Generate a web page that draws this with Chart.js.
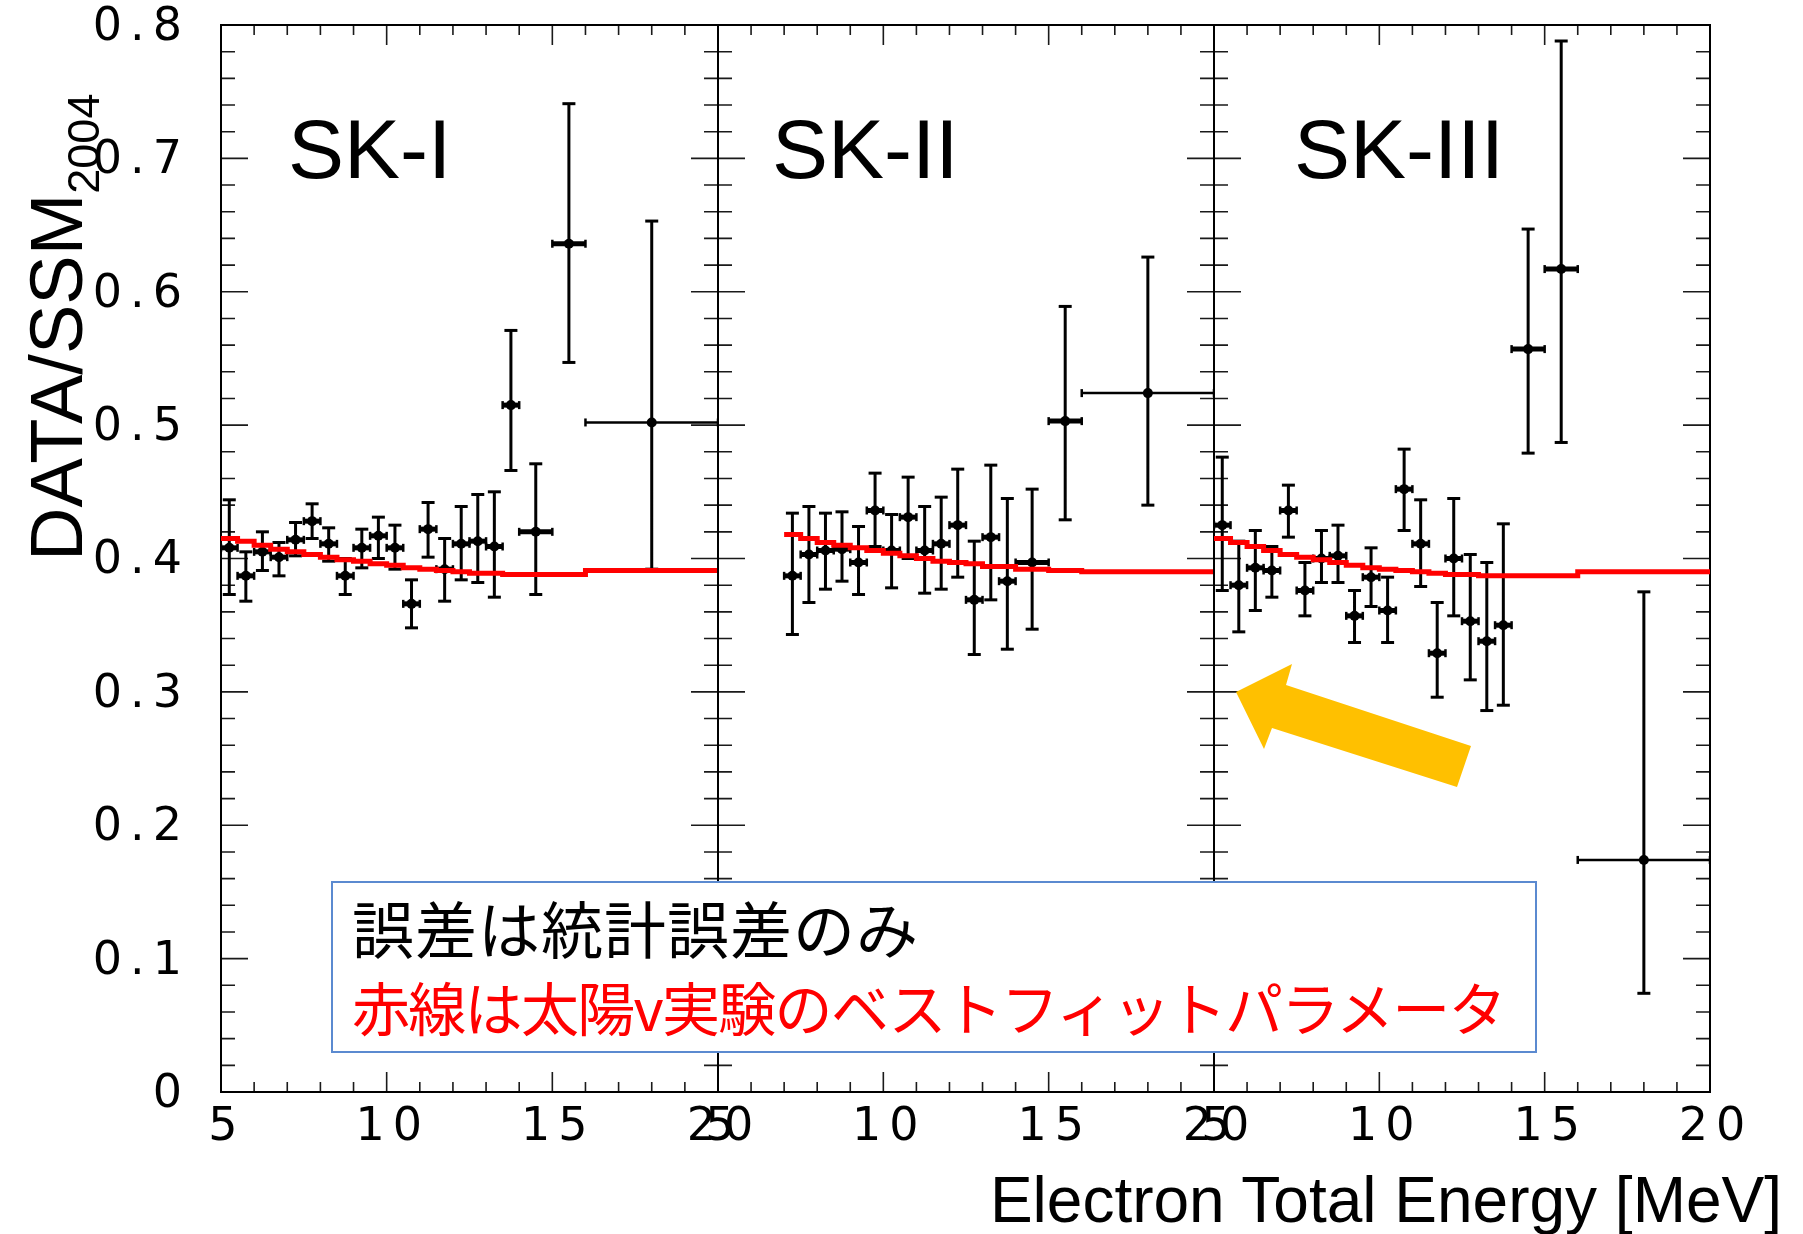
<!DOCTYPE html>
<html>
<head>
<meta charset="utf-8">
<script src="https://cdn.jsdelivr.net/npm/chart.js@4.4.1/dist/chart.umd.min.js"></script>
<style>
  html, body { margin: 0; padding: 0; background: #fff; width: 1803px; height: 1234px; overflow: hidden; }
  canvas { position: absolute; top: 0; }
  .txt { position: absolute; white-space: nowrap; line-height: 1; z-index: 5; }
  .panel-label { font-family: "Liberation Sans", Arial, sans-serif; font-size: 84px; color: #000; top: 107px; }
  #ytitle { font-family: "Liberation Sans", Arial, sans-serif; font-size: 74px; left: 20px; top: 561px;
            transform: rotate(-90deg); transform-origin: 0 0; color: #000; }
  #ytitle .sub { font-size: 45px; position: relative; top: 17px; }
  #xtitle { font-family: "Liberation Sans", Arial, sans-serif; font-size: 64px; right: 21px; top: 1168px; color: #000; }
  #note { position: absolute; left: 331px; top: 881px; width: 1206px; height: 172px; box-sizing: border-box;
          border: 2px solid #5b8ad0; background: #fff; z-index: 4; }
  .jp { font-family: "Noto Sans CJK JP", sans-serif; }
  #note1 { left: 352px; top: 896px; font-size: 62px; letter-spacing: 1px; color: #000; }
  #note2 { left: 352px; top: 977px; font-size: 58px; letter-spacing: -1.7px; color: #ff0000; }
  #arrow { position: absolute; left: 0; top: 0; z-index: 6; }
</style>
</head>
<body>
<canvas id="c1" width="760" height="1234" style="left:0px;width:760px;height:1234px"></canvas>
<canvas id="c2" width="616" height="1234" style="left:658px;width:616px;height:1234px"></canvas>
<canvas id="c3" width="616" height="1234" style="left:1154px;width:616px;height:1234px"></canvas>

<div id="ytitle" class="txt">DATA/SSM<span class="sub">2004</span></div>
<div class="txt panel-label" style="left:288px">SK-I</div>
<div class="txt panel-label" style="left:772px">SK-II</div>
<div class="txt panel-label" style="left:1294px">SK-III</div>
<div id="note"></div>
<div id="note1" class="txt jp">誤差は統計誤差のみ</div>
<div id="note2" class="txt jp">赤線は太陽v実験のベストフィットパラメータ</div>
<div id="xtitle" class="txt">Electron Total Energy [MeV]</div>
<svg id="arrow" width="1803" height="1234">
  <polygon points="1236,692 1292,664 1286,685 1471,746 1457,787 1272,728 1264,749" fill="#ffc000"/>
</svg>

<script>
// ---------------- data ----------------
const xTickValues = [5, 10, 15, 20];
const xTickLabels = ['5', '10', '15', '20'];
const yTickLabels = ['0', '0.1', '0.2', '0.3', '0.4', '0.5', '0.6', '0.7', '0.8'];

// SK-I : energy bin edges [MeV], ratio, error-bar low / high, best-fit curve per bin
const sk1Edges = [5, 5.5, 6, 6.5, 7, 7.5, 8, 8.5, 9, 9.5, 10, 10.5, 11, 11.5, 12, 12.5, 13, 13.5, 14, 15, 16, 20];
const sk1Val = [0.408, 0.387, 0.405, 0.401, 0.414, 0.428, 0.411, 0.387, 0.408, 0.417, 0.408, 0.366, 0.422, 0.392, 0.411, 0.413, 0.409, 0.515, 0.420, 0.636, 0.502];
const sk1Lo  = [0.373, 0.368, 0.391, 0.387, 0.402, 0.415, 0.398, 0.373, 0.393, 0.400, 0.392, 0.348, 0.401, 0.368, 0.384, 0.382, 0.371, 0.466, 0.373, 0.547, 0.392];
const sk1Hi  = [0.444, 0.405, 0.420, 0.412, 0.427, 0.441, 0.423, 0.400, 0.422, 0.431, 0.425, 0.384, 0.442, 0.415, 0.439, 0.448, 0.450, 0.571, 0.471, 0.741, 0.653];
const sk1Fit = [0.415, 0.413, 0.410, 0.407, 0.405, 0.403, 0.401, 0.399, 0.398, 0.396, 0.395, 0.393, 0.392, 0.391, 0.390, 0.389, 0.389, 0.388, 0.388, 0.388, 0.391];

// SK-II
const sk2Edges = [7, 7.5, 8, 8.5, 9, 9.5, 10, 10.5, 11, 11.5, 12, 12.5, 13, 13.5, 14, 15, 16, 20];
const sk2Val = [0.387, 0.403, 0.406, 0.407, 0.397, 0.436, 0.406, 0.431, 0.406, 0.411, 0.425, 0.369, 0.416, 0.383, 0.397, 0.503, 0.524];
const sk2Lo  = [0.343, 0.367, 0.377, 0.383, 0.373, 0.409, 0.378, 0.400, 0.374, 0.377, 0.386, 0.328, 0.369, 0.332, 0.347, 0.429, 0.440];
const sk2Hi  = [0.434, 0.439, 0.434, 0.435, 0.424, 0.464, 0.433, 0.461, 0.439, 0.446, 0.467, 0.413, 0.470, 0.445, 0.452, 0.589, 0.626];
const sk2Fit = [0.418, 0.415, 0.412, 0.410, 0.408, 0.406, 0.404, 0.402, 0.400, 0.398, 0.397, 0.396, 0.394, 0.394, 0.392, 0.391, 0.390];

// SK-III
const sk3Edges = [5, 5.5, 6, 6.5, 7, 7.5, 8, 8.5, 9, 9.5, 10, 10.5, 11, 11.5, 12, 12.5, 13, 13.5, 14, 15, 16, 20];
const sk3Val = [0.425, 0.380, 0.393, 0.391, 0.436, 0.376, 0.400, 0.402, 0.357, 0.386, 0.361, 0.452, 0.411, 0.329, 0.400, 0.353, 0.338, 0.350, 0.557, 0.617, 0.174];
const sk3Lo  = [0.376, 0.345, 0.361, 0.371, 0.416, 0.357, 0.382, 0.382, 0.337, 0.364, 0.337, 0.421, 0.379, 0.296, 0.357, 0.309, 0.286, 0.290, 0.479, 0.487, 0.074];
const sk3Hi  = [0.476, 0.413, 0.421, 0.409, 0.455, 0.397, 0.421, 0.425, 0.376, 0.408, 0.386, 0.482, 0.444, 0.367, 0.445, 0.403, 0.397, 0.426, 0.647, 0.788, 0.375];
const sk3Fit = [0.415, 0.412, 0.409, 0.406, 0.403, 0.401, 0.399, 0.397, 0.395, 0.393, 0.392, 0.391, 0.390, 0.389, 0.388, 0.388, 0.387, 0.387, 0.387, 0.387, 0.390];

// ---------------- helpers ----------------
function centers(edges) {
  const c = [];
  for (let i = 0; i < edges.length - 1; i++) c.push((edges[i] + edges[i + 1]) / 2);
  return c;
}
function pointData(edges, val) {
  return centers(edges).map((x, i) => ({ x, y: val[i] }));
}
function vErrData(edges, lo, hi) {
  const out = [];
  centers(edges).forEach((x, i) => { out.push({ x, y: lo[i] }, { x, y: hi[i] }, { x, y: null }); });
  return out;
}
function hErrData(edges, val) {
  const out = [];
  for (let i = 0; i < edges.length - 1; i++) {
    out.push({ x: edges[i], y: val[i] }, { x: edges[i + 1], y: val[i] }, { x: edges[i + 1], y: null });
  }
  return out;
}
function fitData(edges, fit) {
  const out = fit.map((v, i) => ({ x: edges[i], y: v }));
  out.push({ x: edges[edges.length - 1], y: fit[fit.length - 1] });
  return out;
}

// frame + inward ticks (ROOT style), drawn through the chart's scales
const frameTicks = {
  id: 'frameTicks',
  beforeDatasetsDraw(chart) {
    const { ctx, chartArea: a, scales } = chart;
    const x = scales.x, y = scales.y;
    ctx.save();
    ctx.letterSpacing = '0px';
    ctx.strokeStyle = '#1a1a1a';
    ctx.lineWidth = 1.6;
    ctx.beginPath();
    for (let k = 0; k <= 40; k++) {
      const py = y.getPixelForValue(k * 0.02);
      const len = (k % 5 === 0) ? 27 : 14;
      ctx.moveTo(a.left, py); ctx.lineTo(a.left + len, py);
      ctx.moveTo(a.right - len, py); ctx.lineTo(a.right, py);
    }
    for (let e = 5; e <= 20; e++) {
      const px = x.getPixelForValue(e);
      const len = (e % 5 === 0) ? 20 : 10;
      ctx.moveTo(px, a.top); ctx.lineTo(px, a.top + len);
      ctx.moveTo(px, a.bottom - len); ctx.lineTo(px, a.bottom);
    }
    ctx.stroke();
    ctx.lineWidth = 2;
    ctx.strokeStyle = '#000';
    ctx.strokeRect(a.left, a.top, a.right - a.left, a.bottom - a.top);
    ctx.restore();
  }
};
const spacing = {
  id: 'spacing',
  beforeDraw(chart) { chart.ctx.letterSpacing = '8px'; },
  afterDraw(chart) { chart.ctx.letterSpacing = '0px'; }
};

const tickFont = { family: '"DejaVu Sans", sans-serif', size: 46 };

function makePanel(id, edges, val, lo, hi, fit, showY, pad) {
  return new Chart(document.getElementById(id), {
    type: 'line',
    data: {
      datasets: [
        { // best-fit (red)
          data: fitData(edges, fit), stepped: true, borderColor: '#ff0000', borderWidth: 5,
          pointRadius: 0, fill: false
        },
        { // vertical error bars with caps
          data: vErrData(edges, lo, hi), borderColor: '#000', borderWidth: 3,
          pointStyle: 'line', pointRadius: 6.5, pointBorderWidth: 3, pointBorderColor: '#000',
          spanGaps: false, fill: false
        },
        { // horizontal (bin width) bars with caps
          data: hErrData(edges, val), borderColor: '#000', borderWidth: 3,
          segment: { borderWidth: c => (c.p1.parsed.x - c.p0.parsed.x > 1.5 ? 2.5 : 5) },
          pointStyle: 'line', pointRotation: 90, pointRadius: 4, pointBorderWidth: 2.5, pointBorderColor: '#000',
          spanGaps: false, fill: false
        },
        { // data points
          data: pointData(edges, val), showLine: false, pointStyle: 'circle', pointRadius: 5,
          pointBackgroundColor: '#000', pointBorderWidth: 0
        }
      ]
    },
    options: {
      responsive: false, animation: false, devicePixelRatio: 1,
      layout: { padding: pad },
      plugins: { legend: { display: false }, tooltip: { enabled: false } },
      scales: {
        x: {
          type: 'linear', min: 5, max: 20,
          grid: { display: false, drawTicks: false }, border: { display: false },
          afterFit: s => { s.height = 142; s.paddingLeft = 0; s.paddingRight = 0; },
          ticks: {
            stepSize: 5, autoSkip: false, maxRotation: 0, font: tickFont, color: '#000',
            padding: 8, labelOffset: 6,
            callback: v => { const i = xTickValues.indexOf(v); return i >= 0 ? xTickLabels[i] : ''; }
          }
        },
        y: {
          display: showY, min: 0, max: 0.8,
          grid: { display: false, drawTicks: false }, border: { display: false },
          afterFit: s => { s.width = showY ? 221 : 0; s.paddingTop = 0; s.paddingBottom = 0; },
          ticks: {
            stepSize: 0.1, font: tickFont, color: '#000', padding: 31, labelOffset: 3,
            callback: (v, i) => yTickLabels[i]
          }
        }
      }
    },
    plugins: [spacing, frameTicks]
  });
}

makePanel('c1', sk1Edges, sk1Val, sk1Lo, sk1Hi, sk1Fit, true, { left: 0, right: 42, top: 25, bottom: 0 });
makePanel('c2', sk2Edges, sk2Val, sk2Lo, sk2Hi, sk2Fit, false, { left: 60, right: 60, top: 25, bottom: 0 });
makePanel('c3', sk3Edges, sk3Val, sk3Lo, sk3Hi, sk3Fit, false, { left: 60, right: 60, top: 25, bottom: 0 });
</script>
</body>
</html>
